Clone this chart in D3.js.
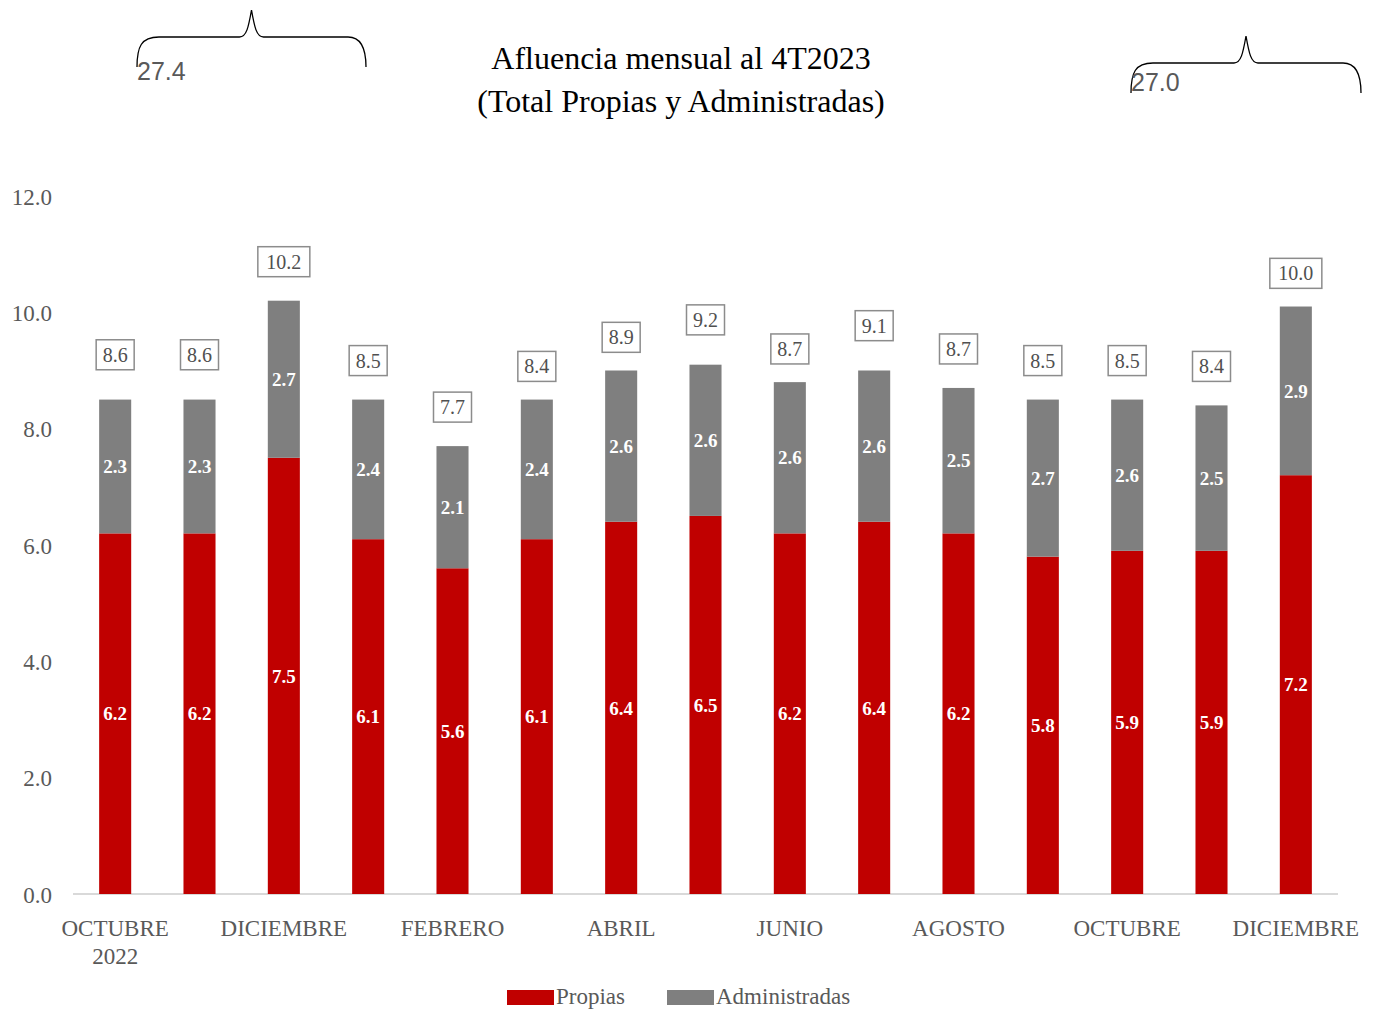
<!DOCTYPE html>
<html>
<head>
<meta charset="utf-8">
<script src="https://cdn.jsdelivr.net/npm/d3@7"></script>
<style>
  body { margin: 0; background: #fff; }
  svg { display: block; }
</style>
</head>
<body>
<svg id="chart" width="1379" height="1010"></svg>
<script>
// Monthly ridership, millions (Oct 2022 – Dec 2023)
const months = ["OCTUBRE 2022", "NOVIEMBRE", "DICIEMBRE", "ENERO", "FEBRERO", "MARZO", "ABRIL", "MAYO",
                "JUNIO", "JULIO", "AGOSTO", "SEPTIEMBRE", "OCTUBRE", "NOVIEMBRE 2023", "DICIEMBRE 2023"];
const axisLabels = [["OCTUBRE", "2022"], null, ["DICIEMBRE"], null, ["FEBRERO"], null, ["ABRIL"], null,
                    ["JUNIO"], null, ["AGOSTO"], null, ["OCTUBRE"], null, ["DICIEMBRE"]];
const propias = [6.2, 6.2, 7.5, 6.1, 5.6, 6.1, 6.4, 6.5, 6.2, 6.4, 6.2, 5.8, 5.9, 5.9, 7.2];
const administradas = [2.3, 2.3, 2.7, 2.4, 2.1, 2.4, 2.6, 2.6, 2.6, 2.6, 2.5, 2.7, 2.6, 2.5, 2.9];
const totals = [8.6, 8.6, 10.2, 8.5, 7.7, 8.4, 8.9, 9.2, 8.7, 9.1, 8.7, 8.5, 8.5, 8.4, 10.0];
const yTicks = [0, 2, 4, 6, 8, 10, 12];
const quarterTotals = ["27.4", "27.0"];
const seriesNames = ["Propias", "Administradas"];
const colors = { Propias: "#c00000", Administradas: "#7f7f7f" };

const svg = d3.select("#chart");
const serif = "'Liberation Serif', 'DejaVu Serif', serif";

const x = d3.scaleBand().domain(months).range([73, 1338]).paddingInner(0.62).paddingOuter(0.31);
const y = d3.scaleLinear().domain([0, 12]).range([894, 196]);

// Title
const title = svg.append("text").attr("text-anchor", "middle").attr("font-family", serif)
  .attr("font-size", 32).attr("fill", "#000");
title.append("tspan").attr("x", 681).attr("y", 69).text("Afluencia mensual al 4T2023");
title.append("tspan").attr("x", 681).attr("y", 112).text("(Total Propias y Administradas)");

// Quarter braces with totals
function brace(x0, x1, yl, peakY) {
  const xm = (x0 + x1) / 2;
  return `M${x0},${yl + 30} C${x0},${yl + 10} ${x0 + 4},${yl} ${x0 + 22},${yl}` +
    ` L${xm - 12},${yl} C${xm - 5},${yl} ${xm - 3},${yl - 10} ${xm},${peakY}` +
    ` C${xm + 3},${yl - 10} ${xm + 5},${yl} ${xm + 12},${yl}` +
    ` L${x1 - 18},${yl} C${x1 - 6},${yl} ${x1},${yl + 10} ${x1},${yl + 30}`;
}
const braces = [{ x0: 137, x1: 366, yl: 37, peak: 10, ty: 80, label: quarterTotals[0] },
                { x0: 1131, x1: 1361, yl: 63, peak: 36, ty: 91, label: quarterTotals[1] }];
braces.forEach(b => {
  svg.append("path").attr("d", brace(b.x0, b.x1, b.yl, b.peak))
    .attr("fill", "none").attr("stroke", "#000").attr("stroke-width", 1.3);
  svg.append("text").attr("x", b.x0).attr("y", b.ty)
    .attr("font-family", "'Liberation Sans', Arial, sans-serif").attr("font-size", 25)
    .attr("font-weight", 300).attr("fill", "#595959").text(b.label);
});

// Y axis labels
const yAxis = d3.axisLeft(y).tickValues(yTicks).tickFormat(d3.format(".1f")).tickSize(0).tickPadding(0);
const yg = svg.append("g").attr("transform", "translate(52,0)").call(yAxis);
yg.select(".domain").remove();
yg.selectAll("text").attr("font-family", serif).attr("font-size", 23).attr("fill", "#595959")
  .attr("dy", "0.35em");

// Baseline
svg.append("line").attr("x1", 73).attr("x2", 1338).attr("y1", y(0)).attr("y2", y(0))
  .attr("stroke", "#d9d9d9").attr("stroke-width", 2);

// Stacked bars
const rows = months.map((m, i) => ({ month: m, Propias: propias[i], Administradas: administradas[i] }));
const stacked = d3.stack().keys(seriesNames)(rows);
const layers = svg.append("g").selectAll("g").data(stacked).join("g")
  .attr("fill", d => colors[d.key]);
layers.selectAll("rect").data(d => d).join("rect")
  .attr("x", d => x(d.data.month)).attr("width", x.bandwidth())
  .attr("y", d => y(d[1])).attr("height", d => y(d[0]) - y(d[1]));

// Segment value labels
stacked.forEach(layer => {
  svg.append("g").selectAll("text").data(layer).join("text")
    .attr("x", d => x(d.data.month) + x.bandwidth() / 2)
    .attr("y", d => (y(d[0]) + y(d[1])) / 2)
    .attr("dy", "0.35em").attr("text-anchor", "middle")
    .attr("font-family", serif).attr("font-size", 19).attr("font-weight", "bold")
    .attr("fill", "#fff").text(d => d3.format(".1f")(d.data[layer.key]));
});

// Total boxes above the bars
const tg = svg.append("g").selectAll("g").data(months).join("g")
  .attr("transform", (m, i) => `translate(${x(m) + x.bandwidth() / 2},${y(totals[i]) - 39})`);
tg.append("rect").attr("x", (m, i) => totals[i] >= 10 ? -26 : -19).attr("y", -15)
  .attr("width", (m, i) => totals[i] >= 10 ? 52 : 38).attr("height", 30)
  .attr("fill", "#fff").attr("stroke", "#8c8c8c").attr("stroke-width", 1.5);
tg.append("text").attr("text-anchor", "middle").attr("dy", "0.35em")
  .attr("font-family", serif).attr("font-size", 20).attr("fill", "#505050")
  .text((m, i) => d3.format(".1f")(totals[i]));

// X axis labels (every other month)
const xg = svg.append("g").selectAll("text").data(months).join("text")
  .attr("text-anchor", "middle").attr("font-family", serif).attr("font-size", 23).attr("fill", "#595959");
xg.each(function (m, i) {
  const lines = axisLabels[i];
  if (!lines) return;
  lines.forEach((t, k) => {
    d3.select(this).append("tspan").attr("x", x(m) + x.bandwidth() / 2).attr("y", 936 + k * 28).text(t);
  });
});

// Legend
const legendItems = [{ key: "Propias", x: 507 }, { key: "Administradas", x: 667 }];
legendItems.forEach(l => {
  svg.append("rect").attr("x", l.x).attr("y", 990).attr("width", 47).attr("height", 15).attr("fill", colors[l.key]);
  svg.append("text").attr("x", l.x + 49).attr("y", 1004).attr("font-family", serif)
    .attr("font-size", 23).attr("fill", "#595959").text(l.key);
});
</script>
</body>
</html>
